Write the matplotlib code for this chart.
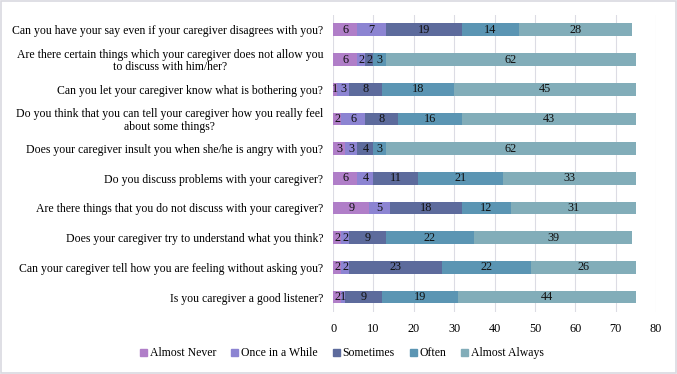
import matplotlib
matplotlib.use("Agg")
import matplotlib.pyplot as plt
import numpy as np
from matplotlib.patches import Rectangle

questions = [
    "Can you have your say even if your caregiver disagrees with you?",
    "Are there certain things which your caregiver does not allow you\nto discuss with him/her?",
    "Can you let your caregiver know what is bothering you?",
    "Do you think that you can tell your caregiver how you really feel\nabout some things?",
    "Does your caregiver insult you when she/he is angry with you?",
    "Do you discuss problems with your caregiver?",
    "Are there things that you do not discuss with your caregiver?",
    "Does your caregiver try to understand what you think?",
    "Can your caregiver tell how you are feeling without asking you?",
    "Is you caregiver a good listener?",
]
categories = ["Almost Never", "Once in a While", "Sometimes", "Often", "Almost Always"]
almost_never = [6, 6, 1, 2, 3, 6, 9, 2, 2, 2]
once_in_a_while = [7, 2, 3, 6, 3, 4, 5, 2, 2, 1]
sometimes = [19, 2, 8, 8, 4, 11, 18, 9, 23, 9]
often = [14, 3, 18, 16, 3, 21, 12, 22, 22, 19]
almost_always = [28, 62, 45, 43, 62, 33, 31, 39, 26, 44]
xticks = [0, 10, 20, 30, 40, 50, 60, 70, 80]

colors = ["#b07ec8", "#8c84d2", "#5d6b9c", "#5b95b3", "#82adb9"]
series = [almost_never, once_in_a_while, sometimes, often, almost_always]

plt.rcParams['font.family'] = ['Liberation Serif', 'DejaVu Serif']

fig = plt.figure(figsize=(6.77, 3.74), dpi=100)
ax = fig.add_axes([0.492, 0.166, 0.477, 0.794])

y = np.arange(len(questions))
left = np.zeros(len(questions))
for vals, col, name in zip(series, colors, categories):
    vals = np.array(vals, dtype=float)
    ax.barh(y, vals, left=left, height=0.43, color=col, label=name, zorder=3)
    for yi, l, v in zip(y, left, vals):
        ax.text(l + v / 2, yi, f"{int(v)}", ha='center', va='center', fontsize=8.8,
                color='#111111', zorder=4)
    left += vals

ax.set_ylim(len(questions) - 0.5, -0.5)
ax.set_xlim(0, 80)
ax.set_xticks(xticks)
ax.set_yticks(y)
ax.set_yticklabels(questions, fontsize=8.5, multialignment='center', linespacing=1.05)
ax.tick_params(axis='y', length=0, pad=7)
ax.tick_params(axis='x', length=0, pad=8, labelsize=8.8)
for s in ax.spines.values():
    s.set_visible(False)
ax.grid(axis='x', color='#dcdce4', linewidth=0.8, zorder=0)
ax.set_axisbelow(True)

handles = [Rectangle((0, 0), 1, 1, color=c) for c in colors]
fig.legend(handles, categories, loc='center', bbox_to_anchor=(0.505, 0.055), ncol=5,
           frameon=False, fontsize=8.5, handlelength=0.6, handleheight=0.6,
           handletextpad=0.2, columnspacing=1.3)

border = Rectangle((0.002, 0.003), 0.996, 0.994, transform=fig.transFigure, fill=False,
                   edgecolor='#d9d9e0', linewidth=1.2)
fig.patches.append(border)

fig.savefig("out.png", dpi=100)
